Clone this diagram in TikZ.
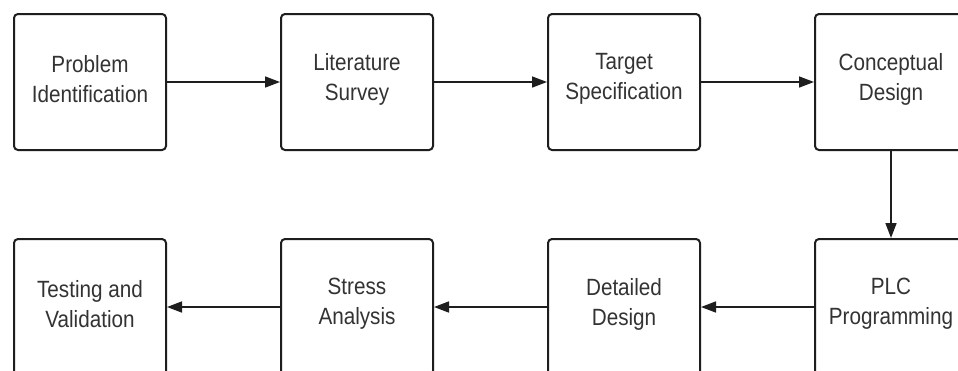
\documentclass[tikz,border=0pt]{standalone}
\usepackage{fontspec}
\setmainfont{Liberation Sans}[FakeStretch=0.88]
\usetikzlibrary{arrows.meta}
\definecolor{ink}{HTML}{1E1E1E}
\definecolor{txt}{HTML}{333333}
\tikzset{
  stepbox/.style={draw=ink, line width=2pt, rounded corners=4pt, minimum width=152pt, minimum height=136pt},
  steptext/.style={align=center, text=txt, font=\fontsize{23.5pt}{30pt}\selectfont, inner sep=0pt},
  flow/.style={draw=ink, line width=1.6pt, -{Triangle[length=15pt,width=11pt]}}
}
\begin{document}
\begin{tikzpicture}[x=1pt,y=-1pt]
\useasboundingbox (0,0) rectangle (958,370);
\clip (0,0) rectangle (958,370);
\fill[white] (0,0) rectangle (958,370);
\node[stepbox] (a) at (90,82) {};
\node[stepbox] (b) at (357,82) {};
\node[stepbox] (c) at (624,82) {};
\node[stepbox] (d) at (891,82) {};
\node[stepbox] (e) at (891,307) {};
\node[stepbox] (f) at (624,307) {};
\node[stepbox] (g) at (357,307) {};
\node[stepbox] (h) at (90,307) {};
\node[steptext] (ta) at ([yshift=3pt]a.center) {Problem\\Identification};
\node[steptext] (tb) at ([yshift=3pt]b.center) {Literature\\Survey};
\node[steptext] (tc) at ([yshift=3pt]c.center) {Target\\Specification};
\node[steptext] (td) at ([yshift=3pt]d.center) {Conceptual\\Design};
\node[steptext] (te) at ([yshift=3pt]e.center) {PLC\\Programming};
\node[steptext] (tf) at ([yshift=3pt]f.center) {Detailed\\Design};
\node[steptext] (tg) at ([yshift=3pt]g.center) {Stress\\Analysis};
\node[steptext] (th) at ([yshift=3pt]h.center) {Testing and\\Validation};
\draw[flow] (a) -- (b);
\draw[flow] (b) -- (c);
\draw[flow] (c) -- (d);
\draw[flow] (d) -- (e);
\draw[flow] (e) -- (f);
\draw[flow] (f) -- (g);
\draw[flow] (g) -- (h);
\end{tikzpicture}
\end{document}
